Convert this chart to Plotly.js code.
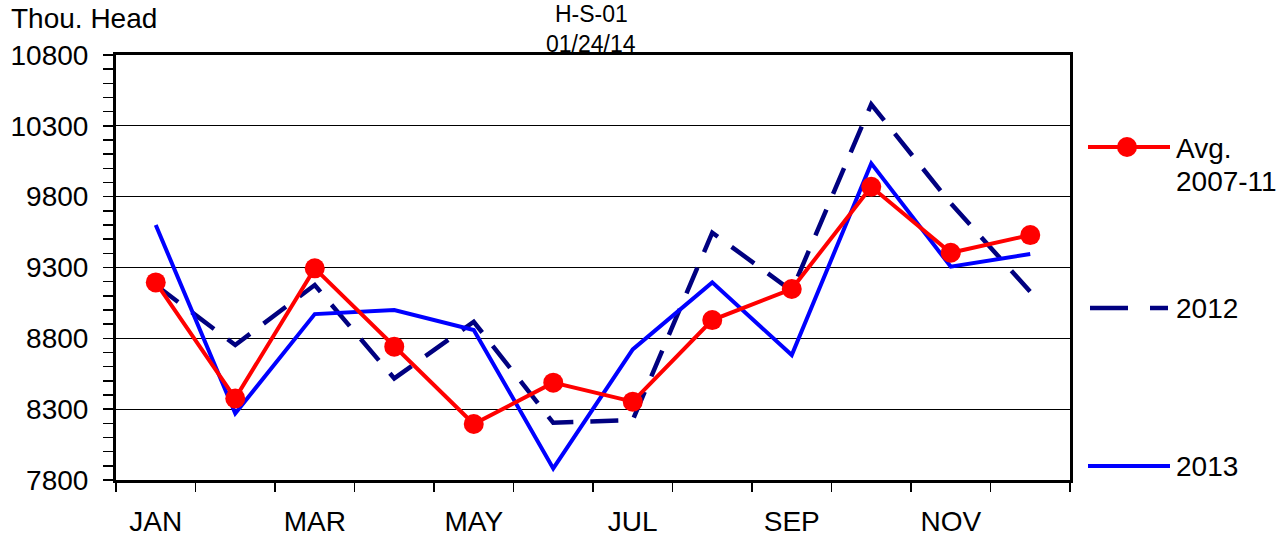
<!DOCTYPE html>
<html>
<head>
<meta charset="utf-8">
<script src="https://cdn.plot.ly/plotly-3.0.1.min.js"></script>
<style>html,body{margin:0;padding:0;background:#fff;}#chart{width:1286px;height:537px;}</style>
</head>
<body>
<div id="chart"></div>
<script>
const months = [1,2,3,4,5,6,7,8,9,10,11,12];
const monthLabels = ['JAN','MAR','MAY','JUL','SEP','NOV'];
const monthLabelPos = [1,3,5,7,9,11];
const avg0711 = [9195,8376,9294,8741,8195,8487,8353,8929,9148,9870,9404,9529];
const y2012 = [9176,8753,9176,8517,8917,8204,8223,9546,9135,10452,9753,9129];
const y2013 = [9600,8270,8971,9000,8859,7882,8722,9195,8682,10035,9306,9395];
const yTicks = [7800,8300,8800,9300,9800,10300,10800];
const yTickText = ['7800','8300','8800','9300','9800','10300','10800'];
const seriesNames = ['Avg.<br>2007-11','2012','2013'];
const titleText = 'H-S-01';
const subtitleText = '01/24/14';
const yTitle = 'Thou. Head';

const FONT = 'Liberation Sans, Arial, sans-serif';
const FS = 28;
const L = 116, R = 1070, T = 55, B = 480;
const px = x => (x - L) / (R - L);
const py = y => (B - y) / (B - T);

const traces = [
  {x: months, y: y2012, mode: 'lines', name: seriesNames[1],
   line: {color: '#000080', width: 4.5, dash: '28px,17px'}},
  {x: months, y: y2013, mode: 'lines', name: seriesNames[2],
   line: {color: '#0000FF', width: 4}},
  {x: months, y: avg0711, mode: 'lines+markers', name: seriesNames[0],
   line: {color: '#FF0000', width: 4}, marker: {color: '#FF0000', size: 20}}
];

const shapes = [
  {type:'line', xref:'paper', yref:'paper', x0:px(1088), x1:px(1170), y0:py(147), y1:py(147), line:{color:'#FF0000', width:4}},
  {type:'circle', xref:'paper', yref:'paper', x0:px(1117), x1:px(1137), y0:py(137), y1:py(157), fillcolor:'#FF0000', line:{color:'#FF0000', width:0}},
  {type:'line', xref:'paper', yref:'paper', x0:px(1090), x1:px(1128), y0:py(308), y1:py(308), line:{color:'#000080', width:4.5}},
  {type:'line', xref:'paper', yref:'paper', x0:px(1150), x1:px(1168), y0:py(308), y1:py(308), line:{color:'#000080', width:4.5}},
  {type:'line', xref:'paper', yref:'paper', x0:px(1088), x1:px(1170), y0:py(466), y1:py(466), line:{color:'#0000FF', width:4}}
];

const ann = (text, x, y, anchor, size) => ({text: text, xref:'paper', yref:'paper', x:px(x), y:py(y), xanchor:anchor, yanchor:'middle', showarrow:false, font:{family:FONT, size:size, color:'#000'}});
const annotations = [
  ann(yTitle, 9, 19, 'left', FS),
  ann(titleText, 591, 14, 'center', 23),
  ann(subtitleText, 591, 44, 'center', 23),
  ann('Avg.', 1174, 148, 'left', FS),
  ann('2007-11', 1174, 181, 'left', FS),
  ann(seriesNames[1], 1174, 308, 'left', FS),
  ann(seriesNames[2], 1174, 466, 'left', FS)
];

const layout = {
  width: 1286, height: 537,
  margin: {l: L, r: 1286 - R, t: T, b: 537 - B, pad: 0},
  paper_bgcolor: '#fff', plot_bgcolor: '#fff',
  showlegend: false,
  font: {family: FONT, size: FS, color: '#000'},
  xaxis: {
    range: [0.5, 12.5], tickmode: 'array', tickvals: monthLabelPos, ticktext: monthLabels,
    ticks: '', showgrid: false, zeroline: false,
    showline: true, linecolor: '#000', linewidth: 3, mirror: true,
    ticklabelstandoff: 14,
    minor: {tickmode: 'linear', tick0: 0.5, dtick: 1, ticks: 'outside', ticklen: 9, tickwidth: 1.5, tickcolor: '#000', showgrid: false},
    tickfont: {family: FONT, size: FS, color: '#000'}
  },
  yaxis: {
    range: [7800, 10800], tickmode: 'array', tickvals: yTicks, ticktext: yTickText,
    ticks: 'outside', ticklen: 10, tickwidth: 1.5, tickcolor: '#000',
    showgrid: true, gridcolor: '#000', gridwidth: 1, zeroline: false,
    showline: true, linecolor: '#000', linewidth: 3, mirror: true,
    ticklabelstandoff: 9,
    minor: {tickmode: 'linear', tick0: 7800, dtick: 100, ticks: 'outside', ticklen: 10, tickwidth: 1.5, tickcolor: '#000', showgrid: false},
    tickfont: {family: FONT, size: FS, color: '#000'}
  },
  shapes: shapes,
  annotations: annotations
};

Plotly.newPlot('chart', traces, layout, {displayModeBar: false, staticPlot: true});
</script>
</body>
</html>
